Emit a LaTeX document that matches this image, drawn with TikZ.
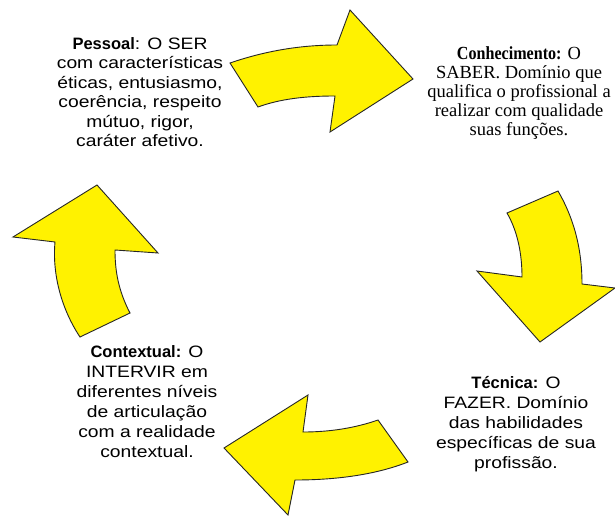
\documentclass[tikz,border=0pt]{standalone}
\usepackage{fontspec}
\setmainfont{Liberation Serif}
\newfontfamily\sansw[FakeStretch=1.17]{Liberation Sans}
\newfontfamily\sansb{Liberation Sans}
\newfontfamily\serifb[FakeStretch=0.87]{Liberation Serif}
\begin{document}
\begin{tikzpicture}[x=1pt,y=-1pt,
  bigarrow/.style={fill=yellow, draw=black!85, line width=0.9pt, line join=miter},
  sanstext/.style={font=\sansw\fontsize{16.5}{19.5}\selectfont, align=center, inner sep=0pt},
  seriftext/.style={font=\fontsize{18.5}{19}\selectfont, align=center, inner sep=0pt}]
\useasboundingbox (0,0) rectangle (615,516);
\fill[white] (0,0) rectangle (615,516);
% top arrow (right)
\path[bigarrow] (230,63) .. controls (265,51) and (300,45) .. (337,45) -- (350,10) -- (413,79) -- (330,132) -- (335,96) .. controls (305,96) and (280,99) .. (258,107) -- cycle;
% right arrow (down)
\path[bigarrow] (558,191) .. controls (572,215) and (582,245) .. (582,284) -- (615,288) -- (540,342) -- (477,271) -- (522,277) .. controls (522,255) and (518,232) .. (507,213) -- cycle;
% bottom arrow (left)
\path[bigarrow] (378,420) -- (408,462) .. controls (375,475) and (335,480) .. (295,480) -- (288,515) -- (224,448) -- (308,395) -- (303,432) .. controls (330,432) and (355,428) .. (378,420) -- cycle;
% left arrow (up)
\path[bigarrow] (80,337) -- (130,313) .. controls (118,290) and (115,270) .. (115,250) -- (158,253) -- (97,185) -- (13,237) -- (55,242) .. controls (52,275) and (62,310) .. (80,337) -- cycle;
% texts
\node[sanstext] (pessoal) at (140,92) {{\sansb\bfseries Pessoal}: O SER\\com características\\éticas, entusiasmo,\\coerência, respeito\\mútuo, rigor,\\caráter afetivo.};
\node[seriftext] (conhec) at (519,93) {{\serifb\bfseries Conhecimento:} O\\SABER. Domínio que\\qualifica o profissional a\\realizar com qualidade\\suas funções.};
\node[sanstext, font=\sansw\fontsize{16.5}{20}\selectfont] (tecnica) at (516,424) {{\sansb\bfseries Técnica:} O\\FAZER. Domínio\\das habilidades\\específicas de sua\\profissão.};
\node[sanstext, font=\sansw\fontsize{16.5}{20}\selectfont] (context) at (147,402) {{\sansb\bfseries Contextual:} O\\INTERVIR em\\diferentes níveis\\de articulação\\com a realidade\\contextual.};
\end{tikzpicture}
\end{document}
